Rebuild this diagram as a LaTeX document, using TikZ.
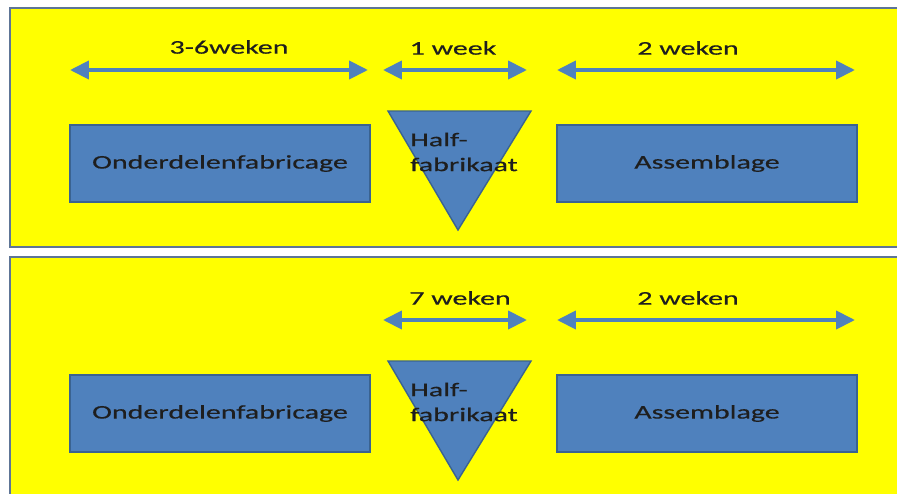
\documentclass[tikz,border=0pt]{standalone}
\usepackage{fontspec}
\setmainfont{Carlito}[FakeStretch=1.55,FakeBold=0.5]
\usetikzlibrary{arrows.meta}

\definecolor{boxblue}{HTML}{4F81BD}
\definecolor{boxline}{HTML}{3A6391}
\definecolor{panelline}{HTML}{5E7596}
\definecolor{textdark}{HTML}{1E1E1E}
\definecolor{panelfill}{HTML}{FFFF00}

\tikzset{
  panel/.style={draw=panelline,line width=1pt,fill=panelfill},
  blok/.style={draw=boxline,line width=0.8pt,fill=boxblue,
    minimum width=6cm,minimum height=1.54cm,text=textdark,font=\fontsize{11}{13}\selectfont},
  blokvorm/.style={draw=boxline,line width=0.8pt,fill=boxblue},
  halftekst/.style={align=left,text=textdark,font=\fontsize{11}{14.2}\selectfont},
  duurtekst/.style={text=textdark,font=\fontsize{11}{13}\selectfont},
  duur/.style={draw=boxblue,line width=2.3pt,
    {Triangle[length=0.38cm,width=0.36cm]}-{Triangle[length=0.38cm,width=0.36cm]}}
}

\begin{document}
\begin{tikzpicture}[x=0.02cm,y=-0.02cm]
\useasboundingbox (0,0) rectangle (897,494);
\clip (0,0) rectangle (897,494);

\path[panel] (10,8) rectangle (920,247);
\path
    (220,163.5) node [blok] (onder1) {Onderdelenfabricage}
    (707,163.5) node [blok] (assem1) {Assemblage};
\path
    (388,111) coordinate (half1nw)
    (531,111) coordinate (half1ne)
    (458,230) coordinate (half1s);
\draw[blokvorm] (half1nw) -- (half1ne) -- (half1s) -- cycle;
\path
    (464,152) node [halftekst] (half1) {Half-\\fabrikaat};
\path
    (70,70) coordinate (pijl1a) (368,70) coordinate (pijl1b)
    (383,70) coordinate (pijl2a) (527,70) coordinate (pijl2b)
    (557,70) coordinate (pijl3a) (855,70) coordinate (pijl3b);
\draw[duur] (pijl1a) -- (pijl1b);
\draw[duur] (pijl2a) -- (pijl2b);
\draw[duur] (pijl3a) -- (pijl3b);
\path
    (229,47) node [duurtekst] (duur1) {3-6weken}
    (453,48) node [duurtekst] (duur2) {1 week}
    (688,48) node [duurtekst] (duur3) {2 weken};

\path[panel] (10,257) rectangle (920,510);
\path
    (220,413.5) node [blok] (onder2) {Onderdelenfabricage}
    (707,413.5) node [blok] (assem2) {Assemblage};
\path
    (388,361) coordinate (half2nw)
    (531,361) coordinate (half2ne)
    (458,480) coordinate (half2s);
\draw[blokvorm] (half2nw) -- (half2ne) -- (half2s) -- cycle;
\path
    (464,402) node [halftekst] (half2) {Half-\\fabrikaat};
\path
    (383,320) coordinate (pijl4a) (527,320) coordinate (pijl4b)
    (557,320) coordinate (pijl5a) (855,320) coordinate (pijl5b);
\draw[duur] (pijl4a) -- (pijl4b);
\draw[duur] (pijl5a) -- (pijl5b);
\path
    (460,298) node [duurtekst] (duur4) {7 weken}
    (688,298) node [duurtekst] (duur5) {2 weken};
\end{tikzpicture}
\end{document}
